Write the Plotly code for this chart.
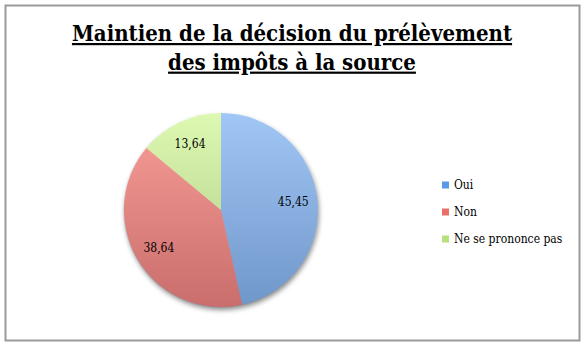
import base64
import plotly.graph_objects as go

# Survey answers and their shares (%)
labels = ["Oui", "Non", "Ne se prononce pas"]
values = [45.45, 38.64, 13.64]
value_text = ["45,45", "38,64", "13,64"]
colors = ["rgba(92,158,238,0.58)", "rgba(246,88,80,0.58)", "rgba(196,244,120,0.58)"]
legend_colors = ["#5b9ae6", "#e9706a", "#b8e07c"]

title_lines = ["Maintien de la décision du prélèvement", "des impôts à la source"]

W, H = 584, 346
FONT = "DejaVu Serif Condensed"

# Pie placement in pixels (converted to paper fractions below)
pie_left, pie_top, pie_size = 124, 113, 194


def px_x(x):
    return x / W


def px_y(y):
    return 1 - y / H


def svg_uri(svg):
    return "data:image/svg+xml;base64," + base64.b64encode(svg.encode()).decode()


pie_domain = dict(x=[px_x(pie_left), px_x(pie_left + pie_size)],
                  y=[px_y(pie_top + pie_size), px_y(pie_top)])

fig = go.Figure()
# Coloured slices
fig.add_trace(go.Pie(
    labels=labels,
    values=values,
    textinfo="none",
    marker=dict(colors=colors, line=dict(width=0)),
    sort=False,
    direction="clockwise",
    rotation=0,
    showlegend=False,
    domain=pie_domain,
))
# Transparent ring on the same values, used to place the value labels towards the rim
fig.add_trace(go.Pie(
    labels=labels,
    values=values,
    text=value_text,
    textinfo="text",
    textposition="inside",
    insidetextorientation="horizontal",
    textfont=dict(family=FONT, size=12, color="#000000"),
    hole=0.5,
    marker=dict(colors=["rgba(0,0,0,0)"] * len(values), line=dict(width=0)),
    sort=False,
    direction="clockwise",
    rotation=0,
    showlegend=False,
    hoverinfo="skip",
    domain=pie_domain,
))

# Drop shadow plus a light-to-dark backing disc that shades the translucent slices
unit = pie_size / 200
back_svg = (
    '<svg xmlns="http://www.w3.org/2000/svg" width="240" height="240" viewBox="0 0 240 240">'
    '<defs><filter id="b" x="-20%" y="-20%" width="140%" height="140%">'
    '<feGaussianBlur stdDeviation="3"/></filter>'
    '<linearGradient id="g" x1="0" y1="0" x2="0" y2="1">'
    '<stop offset="0" stop-color="#ffffff"/>'
    '<stop offset="1" stop-color="#8c8c96"/>'
    '</linearGradient></defs>'
    '<circle cx="121" cy="123" r="100" fill="#000" fill-opacity="0.45" filter="url(#b)"/>'
    '<circle cx="120" cy="120" r="100.5" fill="url(#g)"/>'
    '</svg>'
)
fig.add_layout_image(dict(
    source=svg_uri(back_svg), xref="paper", yref="paper",
    x=px_x(pie_left - 20 * unit), y=px_y(pie_top - 20 * unit),
    sizex=240 * unit / W, sizey=240 * unit / H,
    xanchor="left", yanchor="top", sizing="stretch", layer="below",
))

# Legend: small colour squares with labels
leg_x, leg_y0, leg_step, sq = 442, 185, 27, 7
for i, (lab, col) in enumerate(zip(labels, legend_colors)):
    yc = leg_y0 + i * leg_step
    fig.add_shape(type="rect", xref="paper", yref="paper",
                  x0=px_x(leg_x), x1=px_x(leg_x + sq),
                  y0=px_y(yc + sq / 2), y1=px_y(yc - sq / 2),
                  fillcolor=col, line=dict(width=0))
    fig.add_annotation(text=lab, xref="paper", yref="paper",
                       x=px_x(leg_x + sq + 3), y=px_y(yc),
                       xanchor="left", yanchor="middle", showarrow=False,
                       font=dict(family=FONT, size=12, color="#000000"))

# Chart frame
fig.add_shape(type="rect", xref="paper", yref="paper",
              x0=px_x(5.5), x1=px_x(579.5), y0=px_y(340.5), y1=px_y(5.5),
              line=dict(color="#9a9a9a", width=2), fillcolor="rgba(0,0,0,0)")

fig.update_layout(
    width=W, height=H,
    margin=dict(l=0, r=0, t=0, b=0),
    paper_bgcolor="#ffffff",
    plot_bgcolor="#ffffff",
    title=dict(
        text="<b><u>" + title_lines[0] + "</u><br><u>" + title_lines[1] + "</u></b>",
        x=0.5, xanchor="center", y=px_y(41), yanchor="middle",
        font=dict(family=FONT, size=22, color="#000000"),
    ),
)

fig.write_html("out.html")
